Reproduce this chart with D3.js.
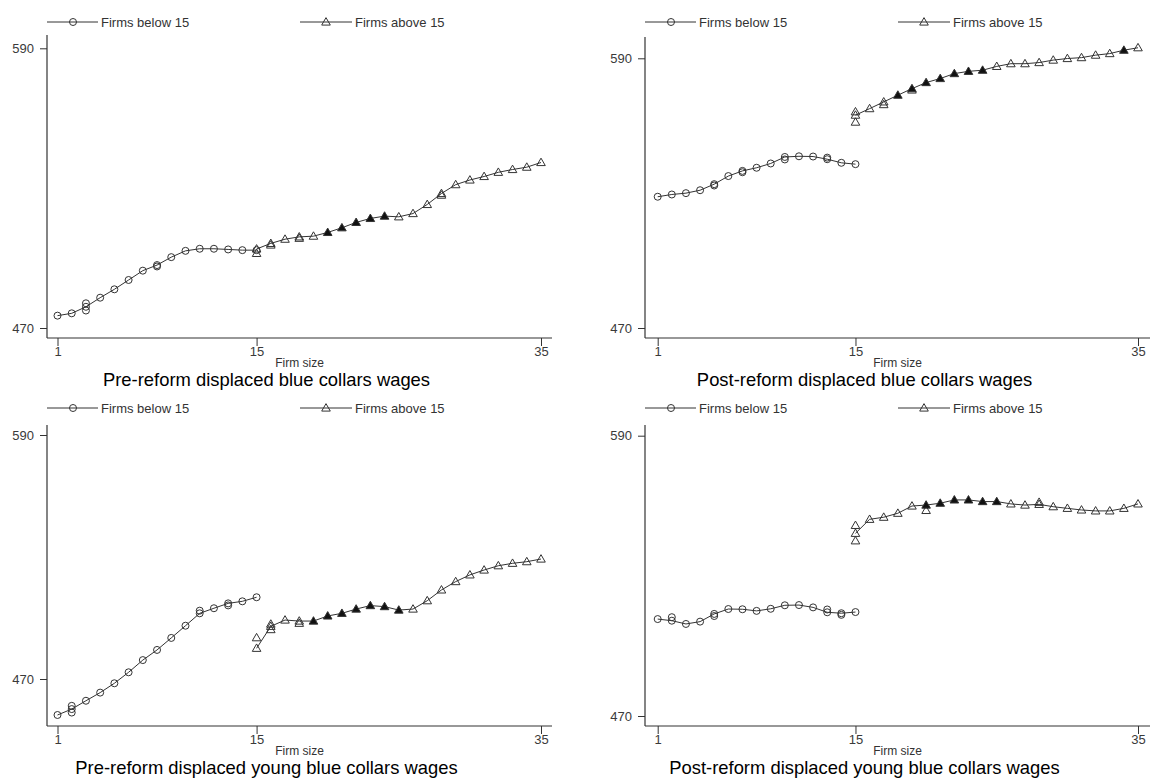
<!DOCTYPE html>
<html><head><meta charset="utf-8">
<script src="https://cdn.jsdelivr.net/npm/d3@7"></script>
<style>body{margin:0;background:#fff}svg{display:block;font-family:Arial,"Liberation Sans",sans-serif}</style>
</head><body><svg id="c" width="1153" height="780"></svg>
<script>
// ---------- data ----------
const xBelow = [1,2,3,4,5,6,7,8,9,10,11,12,13,14,15];
const xAbove = [15,16,17,18,19,20,21,22,23,24,25,26,27,28,29,30,31,32,33,34,35];
const xTicks = [1, 15, 35];
const yTicks = [470, 590];
const legendLabels = ["Firms below 15", "Firms above 15"];
const xTitle = "Firm size";
const panelTitles = [
  "Pre-reform displaced blue collars wages",
  "Post-reform displaced blue collars wages",
  "Pre-reform displaced young blue collars wages",
  "Post-reform displaced young blue collars wages"
];

const preBelow  = [475.3,476.3,479.1,483.0,486.6,490.6,494.6,497.0,500.4,503.1,504.0,504.0,503.7,503.4,503.4];
const preAbove  = [503.9,506.3,508.1,509.1,509.4,511.0,513.0,515.3,517.0,518.0,517.7,519.1,523.0,527.7,531.5,533.5,535.0,536.8,538.0,539.0,541.0];
const postBelow = [528.4,529.4,530.0,531.3,534.0,537.6,539.9,541.3,543.2,546.1,546.4,546.3,545.1,543.5,542.9];
const postAbove = [564.7,567.6,570.6,573.6,576.5,579.2,581.0,583.2,584.2,584.7,586.4,587.6,587.6,588.1,589.2,589.9,590.3,591.4,592.1,593.6,594.7];
const preYoungBelow  = [452.3,455.2,459.3,463.3,467.9,473.3,479.3,484.3,490.2,496.2,502.3,504.8,507.2,508.2,510.2];
const preYoungAbove  = [485.1,495.9,499.0,498.5,498.5,501.0,502.3,504.4,506.1,505.6,503.9,504.4,508.5,513.8,517.9,521.2,523.6,525.7,526.9,527.7,529.0];
const postYoungBelow = [511.5,510.8,509.4,510.4,513.7,515.8,515.7,515.0,515.9,517.4,517.5,516.5,514.4,514.0,514.5];
const postYoungAbove = [548.2,554.2,555.1,556.8,559.9,560.3,561.1,562.5,562.5,561.8,561.8,560.8,560.3,560.6,559.6,558.9,558.2,557.8,557.8,558.9,560.8];

// additional overlapping observations [firm size, wage]
const preExtraBelow = [[3,477.5],[3,480.6],[8,496.4]];
const preExtraAbove = [[15,502.0],[16,505.6],[18,508.5],[28,527.0]];
const postExtraBelow = [[5,533.4],[7,539.3],[10,545.0],[13,545.8]];
const postExtraAbove = [[15,561.6],[15,566.2],[17,569.4],[19,575.9]];
const preYoungExtraBelow = [[2,453.5],[2,456.8],[11,503.6],[13,506.2]];
const preYoungExtraAbove = [[15,490.3],[16,494.3],[16,497.0],[18,497.4]];
const postYoungExtraBelow = [[2,512.3],[5,512.8],[13,515.6],[14,513.3]];
const postYoungExtraAbove = [[15,545.0],[15,551.6],[20,558.0],[28,561.5]];

// firm sizes where many observations overlap (markers appear filled)
const preDenseAbove = [20,21,22,23,24];
const postDenseAbove = [18,19,20,21,22,23,24,34];
const preYoungDenseAbove = [19,20,21,22,23,24,25];
const postYoungDenseAbove = [20,21,22,23,24,25];

const series = [
  {below: preBelow, above: preAbove, exB: preExtraBelow, exA: preExtraAbove, dense: preDenseAbove},
  {below: postBelow, above: postAbove, exB: postExtraBelow, exA: postExtraAbove, dense: postDenseAbove},
  {below: preYoungBelow, above: preYoungAbove, exB: preYoungExtraBelow, exA: preYoungExtraAbove, dense: preYoungDenseAbove},
  {below: postYoungBelow, above: postYoungAbove, exB: postYoungExtraBelow, exA: postYoungExtraAbove, dense: postYoungDenseAbove}
];

// ---------- layout ----------
const layout = [
  {left:47,  right:552,  top:35,  bottom:338, y470:328, y590:48.3, x1:57.5,  x35:541,  legY:22},
  {left:645, right:1150, top:37,  bottom:338, y470:328, y590:58.3, x1:657.7, x35:1138, legY:22},
  {left:47,  right:552,  top:425, bottom:726, y470:679, y590:435,  x1:57.5,  x35:541,  legY:408},
  {left:645, right:1150, top:425, bottom:726, y470:716, y590:435.7,x1:657.7, x35:1138, legY:408}
];

const svg = d3.select("#c");
const ink = "#333";
const triSym = d3.symbol().type(d3.symbolTriangle).size(32);

function drawCircle(g, x, y, filled) {
  g.append("circle").attr("cx", x).attr("cy", y).attr("r", 3.5)
    .attr("fill", filled ? "#111" : "none").attr("stroke", ink).attr("stroke-width", 1);
}
function drawTri(g, x, y, filled) {
  g.append("path").attr("d", triSym).attr("transform", `translate(${x},${y + 0.6})`)
    .attr("fill", filled ? "#111" : "none").attr("stroke", ink).attr("stroke-width", 1);
}

layout.forEach((L, i) => {
  const S = series[i];
  const g = svg.append("g");
  const x = d3.scaleLinear().domain([1, 35]).range([L.x1, L.x35]);
  const y = d3.scaleLinear().domain([470, 590]).range([L.y470, L.y590]);

  // axes
  const yAxis = d3.axisLeft(y).tickValues(yTicks).tickSize(7).tickPadding(6).tickFormat(d3.format("d"));
  const ya = g.append("g").attr("transform", `translate(${L.left},0)`).call(yAxis);
  ya.select(".domain").attr("d", `M0,${L.top}V${L.bottom}`);
  const xAxis = d3.axisBottom(x).tickValues(xTicks).tickSize(8).tickPadding(2).tickFormat(d3.format("d"));
  const xa = g.append("g").attr("transform", `translate(0,${L.bottom})`).call(xAxis);
  xa.select(".domain").attr("d", `M${L.left},0H${L.right}`);
  [ya, xa].forEach(a => {
    a.selectAll(".domain").attr("stroke", ink).attr("stroke-width", 1.2);
    a.selectAll(".tick line").attr("stroke", ink).attr("stroke-width", 1);
    a.selectAll(".tick text").attr("fill", "#3a3a3a").attr("font-size", 13)
      .attr("font-family", "Arial, 'Liberation Sans', sans-serif");
  });
  xa.selectAll(".tick text").attr("dy", null).attr("y", 18);

  // axis title + panel title
  const cx = (L.left + L.right) / 2;
  g.append("text").attr("x", cx).attr("y", L.bottom + 29).attr("text-anchor", "middle")
    .attr("font-size", 12).attr("fill", "#333").text(xTitle);
  g.append("text").attr("x", cx - 33).attr("y", L.bottom + 47.5).attr("text-anchor", "middle")
    .attr("font-size", 18.4).attr("fill", "#000").text(panelTitles[i]);

  // lines
  const line = d3.line().x(d => x(d[0])).y(d => y(d[1])).curve(d3.curveLinear);
  const bPts = xBelow.map((v, k) => [v, S.below[k]]);
  const aPts = xAbove.map((v, k) => [v, S.above[k]]);
  g.append("path").attr("d", line(bPts)).attr("fill", "none").attr("stroke", ink).attr("stroke-width", 1);
  g.append("path").attr("d", line(aPts)).attr("fill", "none").attr("stroke", ink).attr("stroke-width", 1);

  // markers
  S.exB.forEach(d => drawCircle(g, x(d[0]), y(d[1]), false));
  S.exA.forEach(d => drawTri(g, x(d[0]), y(d[1]), false));
  bPts.forEach(d => drawCircle(g, x(d[0]), y(d[1]), false));
  aPts.forEach(d => drawTri(g, x(d[0]), y(d[1]), S.dense.includes(d[0])));

  // legend
  const lx = L.left;
  g.append("line").attr("x1", lx).attr("x2", lx + 51).attr("y1", L.legY).attr("y2", L.legY).attr("stroke", ink).attr("stroke-width", 1);
  drawCircle(g, lx + 26, L.legY, false);
  g.append("text").attr("x", lx + 54).attr("y", L.legY + 4.5).attr("font-size", 13).attr("fill", "#333").text(legendLabels[0]);
  g.append("line").attr("x1", lx + 253).attr("x2", lx + 305).attr("y1", L.legY).attr("y2", L.legY).attr("stroke", ink).attr("stroke-width", 1);
  drawTri(g, lx + 279, L.legY, false);
  g.append("text").attr("x", lx + 308).attr("y", L.legY + 4.5).attr("font-size", 13).attr("fill", "#333").text(legendLabels[1]);
});
</script>
</body></html>
